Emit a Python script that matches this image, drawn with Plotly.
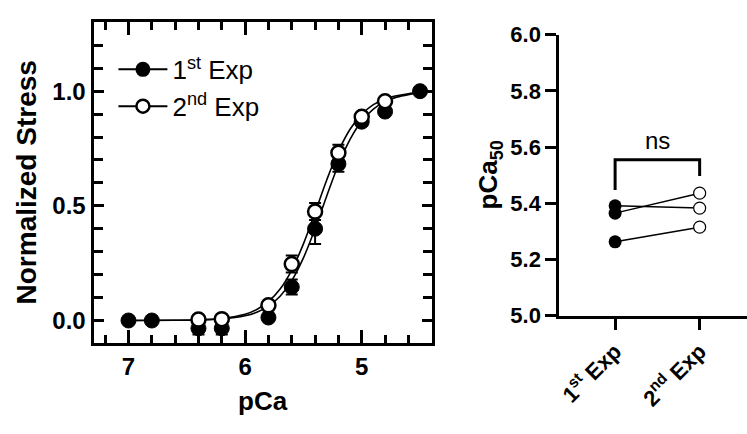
import plotly.graph_objects as go

# ---------------- data: left panel (pCa - normalized stress) ----------------
pca_exp1 = [7.0, 6.8, 6.4, 6.2, 5.8, 5.6, 5.4, 5.2, 5.0, 4.8, 4.5]
stress_exp1 = [0.0, 0.0, -0.034, -0.034, 0.013, 0.146, 0.40, 0.683, 0.867, 0.911, 1.0]
err_exp1 = [0.0, 0.0, 0.027, 0.027, 0.01, 0.033, 0.066, 0.034, 0.01, 0.01, 0.0]

pca_exp2 = [6.4, 6.2, 5.8, 5.6, 5.4, 5.2, 5.0, 4.8]
stress_exp2 = [0.004, 0.006, 0.066, 0.246, 0.475, 0.731, 0.888, 0.956]
err_exp2 = [0.01, 0.01, 0.01, 0.037, 0.037, 0.035, 0.01, 0.01]

# fitted curves
curve_pca = [7.0, 6.6, 6.4, 6.2, 6.0, 5.9, 5.8, 5.7, 5.6, 5.5, 5.4, 5.3,
             5.2, 5.1, 5.0, 4.9, 4.8, 4.7, 4.6, 4.5]
curve_exp1 = [0.000, 0.001, 0.002, 0.007, 0.021, 0.036, 0.063, 0.106, 0.174,
              0.273, 0.401, 0.543, 0.679, 0.790, 0.870, 0.922, 0.955, 0.974,
              0.985, 0.992]
curve_exp2 = [0.000, 0.001, 0.003, 0.009, 0.027, 0.048, 0.082, 0.137, 0.220,
              0.334, 0.471, 0.613, 0.738, 0.834, 0.899, 0.941, 0.966, 0.980,
              0.989, 0.994]

legend_names = ["1<sup>st</sup> Exp", "2<sup>nd</sup> Exp"]

# ---------------- data: right panel (pCa50 paired) ----------------
group_labels = ["1<sup>st</sup> Exp", "2<sup>nd</sup> Exp"]
pca50_exp1 = [5.391, 5.365, 5.263]
pca50_exp2 = [5.383, 5.436, 5.315]
sig_label = "ns"
bracket_top = 5.555
bracket_left_end = 5.447
bracket_right_end = 5.497

FONT = "Arial, Liberation Sans, Helvetica, sans-serif"
W, H = 747, 434

fig = go.Figure()

# fitted curves
fig.add_trace(go.Scatter(x=curve_pca, y=curve_exp1, mode="lines", line=dict(color="black", width=1.6, shape="spline"),
                         showlegend=False, xaxis="x", yaxis="y"))
fig.add_trace(go.Scatter(x=curve_pca, y=curve_exp2, mode="lines", line=dict(color="black", width=1.6, shape="spline"),
                         showlegend=False, xaxis="x", yaxis="y"))

# data points
fig.add_trace(go.Scatter(x=pca_exp1, y=stress_exp1, mode="markers",
                         marker=dict(color="black", size=15, line=dict(color="black", width=1)),
                         error_y=dict(type="data", array=err_exp1, color="black", thickness=2, width=6),
                         showlegend=False, xaxis="x", yaxis="y"))
fig.add_trace(go.Scatter(x=pca_exp2, y=stress_exp2, mode="markers",
                         marker=dict(color="white", size=14, line=dict(color="black", width=2.5)),
                         error_y=dict(type="data", array=err_exp2, color="black", thickness=2, width=6),
                         showlegend=False, xaxis="x", yaxis="y"))

# legend entries
fig.add_trace(go.Scatter(x=[None], y=[None], mode="lines+markers", name=legend_names[0],
                         line=dict(color="black", width=2),
                         marker=dict(color="black", size=15), xaxis="x", yaxis="y"))
fig.add_trace(go.Scatter(x=[None], y=[None], mode="lines+markers", name=legend_names[1],
                         line=dict(color="black", width=2),
                         marker=dict(color="white", size=13, line=dict(color="black", width=2.5)),
                         xaxis="x", yaxis="y"))

# right panel: paired lines
for a, b in zip(pca50_exp1, pca50_exp2):
    fig.add_trace(go.Scatter(x=[0, 1], y=[a, b], mode="lines", line=dict(color="black", width=1.5),
                             showlegend=False, xaxis="x2", yaxis="y2"))
fig.add_trace(go.Scatter(x=[0] * len(pca50_exp1), y=pca50_exp1, mode="markers",
                         marker=dict(color="black", size=13), showlegend=False, xaxis="x2", yaxis="y2"))
fig.add_trace(go.Scatter(x=[1] * len(pca50_exp2), y=pca50_exp2, mode="markers",
                         marker=dict(color="white", size=12, line=dict(color="black", width=1.2)),
                         showlegend=False, xaxis="x2", yaxis="y2"))

# significance bracket
fig.add_shape(type="path", xref="x2", yref="y2",
              path=f"M 0 {bracket_left_end} L 0 {bracket_top} L 1 {bracket_top} L 1 {bracket_right_end}",
              line=dict(color="black", width=3))
fig.add_annotation(x=0.5, y=bracket_top, xref="x2", yref="y2", text=sig_label, showarrow=False,
                   yanchor="bottom", xanchor="center", yshift=4,
                   font=dict(family=FONT, size=24, color="black"))

tick_font = dict(family=FONT, size=24, color="black", weight="bold")

axis_common = dict(showline=True, linecolor="black", linewidth=3, showgrid=False, zeroline=False,
                   ticks="inside", tickcolor="black", tickwidth=3, mirror="allticks")

fig.update_layout(
    width=W, height=H,
    margin=dict(l=0, r=0, t=0, b=0),
    paper_bgcolor="white", plot_bgcolor="white",
    font=dict(family=FONT, color="black"),
    xaxis=dict(domain=[90 / W, 430 / W], range=[7.3, 4.4], tickvals=[7, 6, 5], ticktext=["7", "6", "5"],
               ticklen=13, tickfont=tick_font, anchor="y",
               minor=dict(ticks="inside", dtick=0.2, tick0=7, ticklen=8, tickwidth=3, tickcolor="black", showgrid=False),
               **axis_common),
    yaxis=dict(domain=[(H - 351.7) / H, (H - 11) / H], range=[-0.1, 1.3], tickvals=[0, 0.5, 1.0],
               tickformat=".1f", ticklen=10, tickfont=tick_font, anchor="x",
               minor=dict(ticks="inside", dtick=0.1, tick0=0, ticklen=9, tickwidth=3, tickcolor="black", showgrid=False),
               **axis_common),
    xaxis2=dict(domain=[558.3 / W, 1.0], range=[-0.66, 1.56], tickvals=[0, 1], ticktext=group_labels,
                tickangle=-45, showline=True, linecolor="black", linewidth=3, showgrid=False, zeroline=False,
                ticks="outside", ticklen=11, tickwidth=3, tickcolor="black",
                tickfont=dict(family=FONT, size=22, color="black", weight="bold"), anchor="y2"),
    yaxis2=dict(domain=[(H - 322.3) / H, (H - 24) / H], range=[5.0, 6.0], dtick=0.2, tick0=5.0,
                tickformat=".1f", showline=True, linecolor="black", linewidth=3, showgrid=False, zeroline=False,
                ticks="outside", ticklen=11, tickwidth=3, tickcolor="black",
                tickfont=dict(family=FONT, size=22, color="black", weight="bold"), anchor="x2"),
    legend=dict(x=110 / W, y=(H - 36) / H, xanchor="left", yanchor="top", bgcolor="rgba(0,0,0,0)",
                font=dict(family=FONT, size=26, color="black"), borderwidth=0, itemwidth=49,
                tracegroupgap=0),
)

# axis titles
fig.add_annotation(x=260 / W, y=(H - 413) / H, xref="paper", yref="paper", text="pCa", showarrow=False,
                   xanchor="center", yanchor="middle",
                   font=dict(family=FONT, size=26, color="black", weight="bold"))
fig.add_annotation(x=23 / W, y=(H - 181) / H, xref="paper", yref="paper", text="Normalized Stress",
                   textangle=-90, showarrow=False, xanchor="center", yanchor="middle",
                   font=dict(family=FONT, size=28, color="black", weight="bold"))
fig.add_annotation(x=488 / W, y=(H - 173) / H, xref="paper", yref="paper", text="pCa<sub>50</sub>",
                   textangle=-90, showarrow=False, xanchor="center", yanchor="middle",
                   font=dict(family=FONT, size=26, color="black", weight="bold"))

post = ("document.documentElement.style.margin='0px';document.body.style.margin='0px';"
        "document.body.style.padding='0px';document.documentElement.style.overflow='hidden';"
        "document.body.style.overflow='hidden';"
        "var d=document.getElementById('{plot_id}');d.style.position='absolute';"
        "d.style.left='0px';d.style.top='0px';")

fig.write_html("out.html", config={"displayModeBar": False}, post_script=post)
